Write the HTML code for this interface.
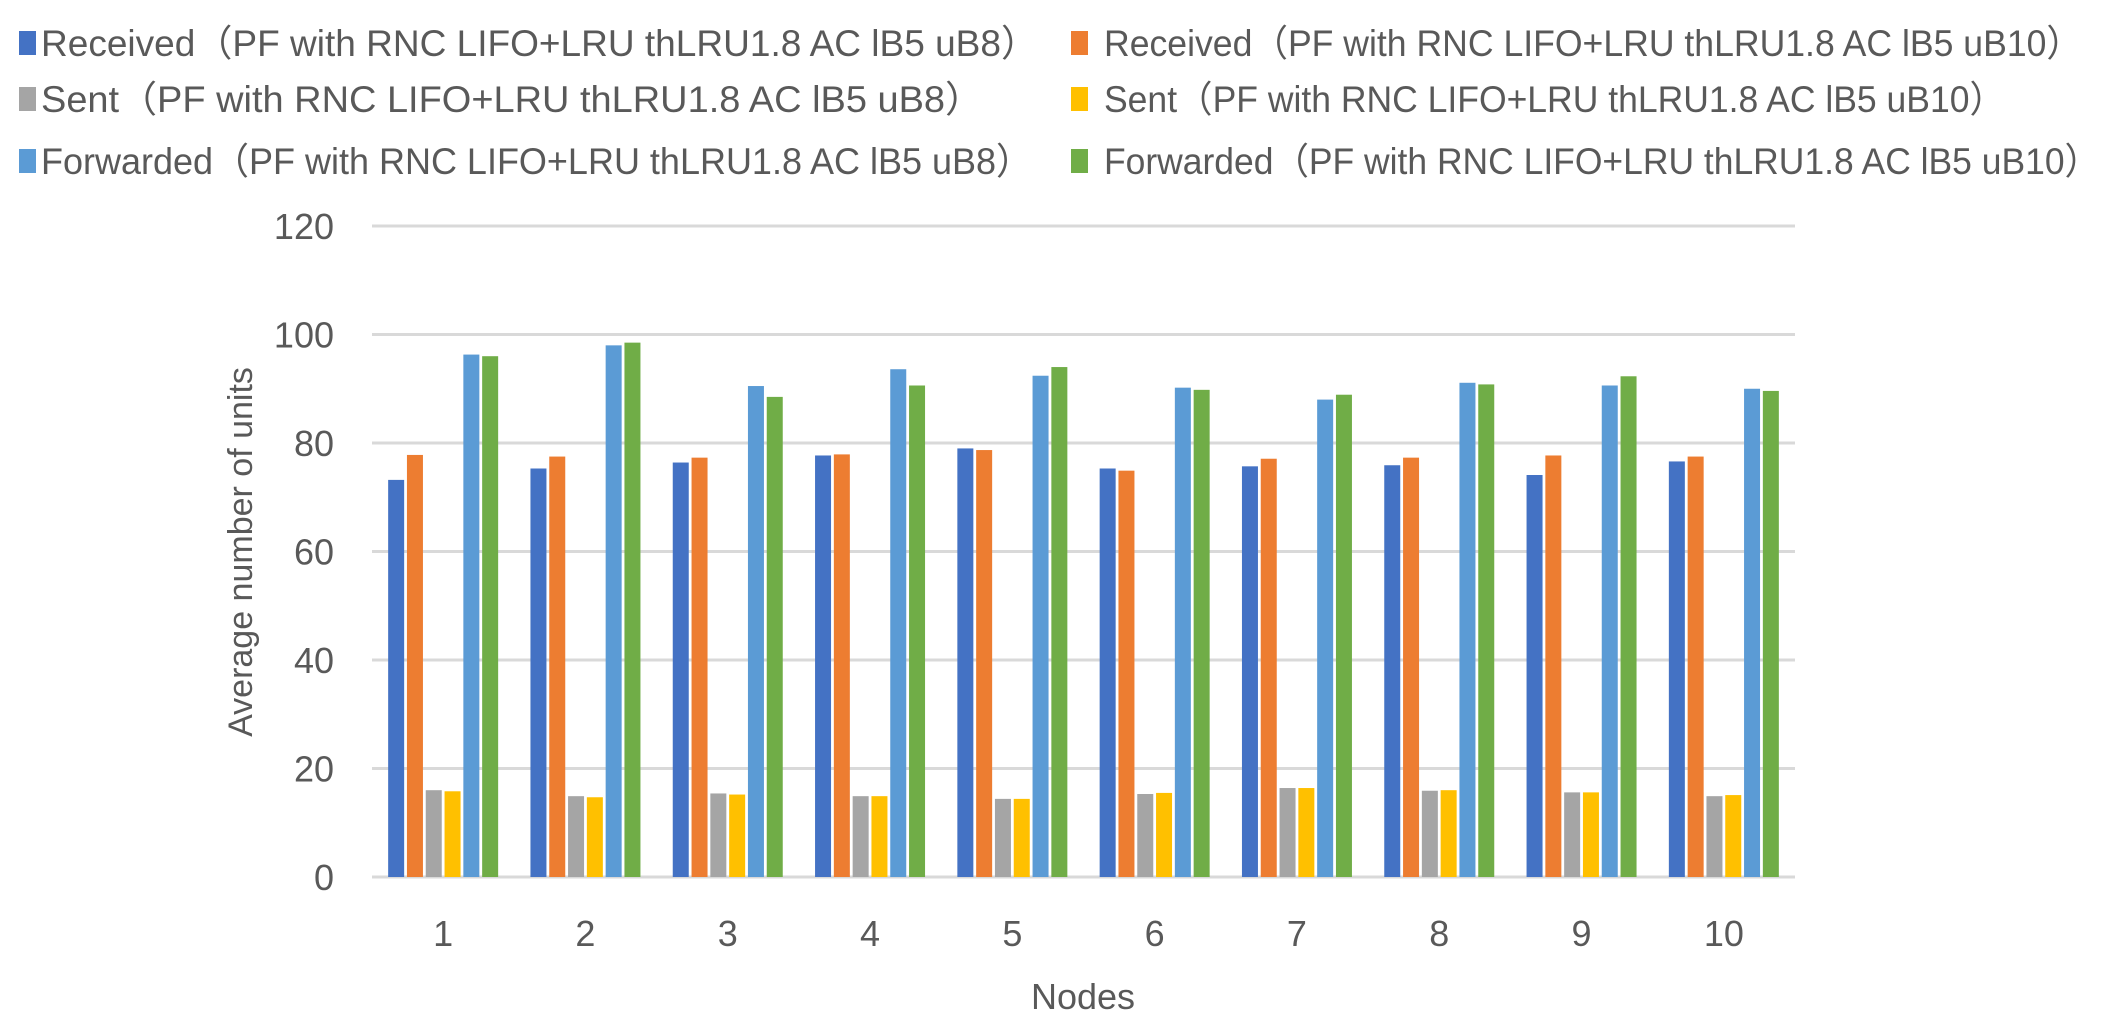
<!DOCTYPE html>
<html><head><meta charset="utf-8"><style>
html,body{margin:0;padding:0;background:#fff;}
svg{display:block;font-family:"Liberation Sans","Noto Sans CJK SC",sans-serif;}
</style></head><body>
<svg id="chart" width="2120" height="1020" viewBox="0 0 2120 1020" xmlns="http://www.w3.org/2000/svg">
<g id="legend"></g>
<g id="grid"></g>
<g id="bars"></g>
<g id="yticks"></g>
<g id="xticks"></g>
<text x="0" y="0" transform="translate(252,552) rotate(-90)" text-anchor="middle" font-size="34" fill="#595959">Average number of units</text>
<text x="1083" y="1009" text-anchor="middle" font-size="36" fill="#595959">Nodes</text>
</svg>
<script>
const categories = ["1","2","3","4","5","6","7","8","9","10"];
const receivedUB8 = [73.2,75.3,76.4,77.7,79.0,75.3,75.7,75.9,74.1,76.6];
const receivedUB10 = [77.8,77.5,77.3,77.9,78.7,74.9,77.1,77.3,77.7,77.5];
const sentUB8 = [16.0,14.9,15.4,14.9,14.4,15.3,16.4,15.9,15.6,14.9];
const sentUB10 = [15.8,14.7,15.2,14.9,14.4,15.5,16.4,16.0,15.6,15.1];
const forwardedUB8 = [96.3,98.0,90.5,93.6,92.4,90.2,88.0,91.1,90.6,90.0];
const forwardedUB10 = [96.0,98.5,88.5,90.6,94.0,89.8,88.9,90.8,92.3,89.6];
const yTicks = [0,20,40,60,80,100,120];
const seriesNames = [
 "Received（PF with RNC LIFO+LRU thLRU1.8 AC lB5 uB8）",
 "Received（PF with RNC LIFO+LRU thLRU1.8 AC lB5 uB10）",
 "Sent（PF with RNC LIFO+LRU thLRU1.8 AC lB5 uB8）",
 "Sent（PF with RNC LIFO+LRU thLRU1.8 AC lB5 uB10）",
 "Forwarded（PF with RNC LIFO+LRU thLRU1.8 AC lB5 uB8）",
 "Forwarded（PF with RNC LIFO+LRU thLRU1.8 AC lB5 uB10）"];

const colors = ["#4472c4","#ed7d31","#a5a5a5","#ffc000","#5b9bd5","#70ad47"];
const series = [receivedUB8,receivedUB10,sentUB8,sentUB10,forwardedUB8,forwardedUB10];
const NS="http://www.w3.org/2000/svg";
const X0=372, X1=1795, Y0=877, Y1=226, YMAX=120;
const yScale = v => Y0 - (v/YMAX)*(Y0-Y1);
const band = (X1-X0)/categories.length;
const xCenter = i => X0 + band*(i+0.5);
const step = 18.8, bw = 16;
function mk(tag, attrs){const e=document.createElementNS(NS,tag);for(const k in attrs)e.setAttribute(k,attrs[k]);return e;}

const grid=document.getElementById('grid'), yt=document.getElementById('yticks');
yTicks.forEach(t=>{
  const l=mk('line',{x1:X0,x2:X1,y1:yScale(t),y2:yScale(t),stroke:'#d9d9d9','stroke-width':3});
  
  
  grid.appendChild(l);
  const tx=mk('text',{x:334,y:yScale(t)+13,'text-anchor':'end','font-size':36,fill:'#595959'});
  tx.textContent=t;
  
  
  yt.appendChild(tx);
});
const bars=document.getElementById('bars'), xt=document.getElementById('xticks');
categories.forEach((c,i)=>{
  series.forEach((s,j)=>{
    const x=xCenter(i)+(j-2.5)*step-bw/2;
    const r=mk('rect',{x:x,y:yScale(s[i]),width:bw,height:Y0-yScale(s[i]),fill:colors[j]});
    
    
    bars.appendChild(r);
  });
  const tx=mk('text',{x:xCenter(i),y:946,'text-anchor':'middle','font-size':36,fill:'#595959'});
  tx.textContent=c;
  
  
  xt.appendChild(tx);
});
const lg=document.getElementById('legend');
const rowsY=[43,99,161];
const textEnds=[1038,2082,983,2005,1032,2100];
seriesNames.forEach((n,k)=>{
  const col=k%2, row=Math.floor(k/2);
  const mx = col?1071:19, tx0 = col?1104:41;
  const m=mk('rect',{x:mx,y:rowsY[row]-12,width:17,height:24,fill:colors[k]});
  
  
  lg.appendChild(m);
  const t=mk('text',{x:tx0,y:rowsY[row]+13,'font-size':37,fill:'#595959',textLength:textEnds[k]-tx0,lengthAdjust:'spacingAndGlyphs'});
  t.textContent=n;
  
  
  lg.appendChild(t);
});
</script>
</body></html>
